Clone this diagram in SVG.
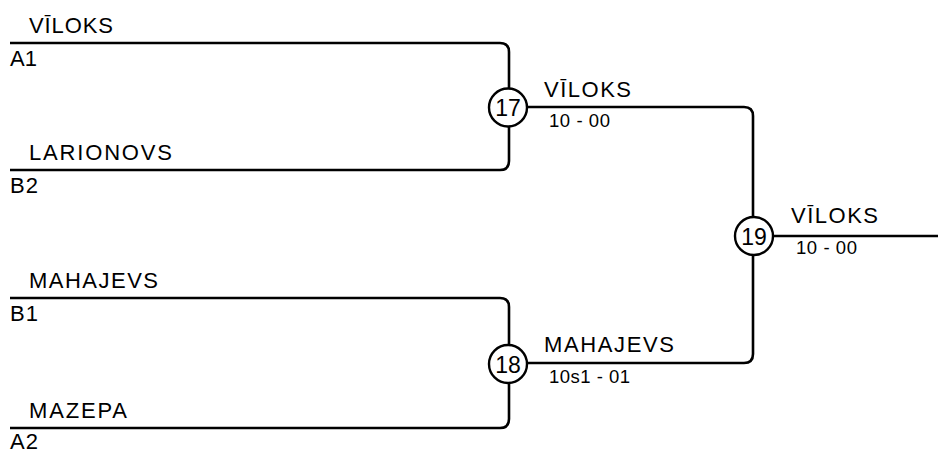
<svg xmlns="http://www.w3.org/2000/svg" width="938" height="449" viewBox="0 0 938 449">
<style>
.ln{fill:none;stroke:#000;stroke-width:2.6;stroke-linejoin:round}
.c{fill:#fff;stroke:#000;stroke-width:2.4}
.nm{font-family:"Liberation Sans",Arial,sans-serif;font-size:22px;fill:#000}
.sd{font-family:"Liberation Sans",Arial,sans-serif;font-size:22px;fill:#000}
.sc{font-family:"Liberation Sans",Arial,sans-serif;font-size:18.5px;fill:#000}
.num{font-family:"Liberation Sans",Arial,sans-serif;font-size:23px;fill:#000;text-anchor:middle}
</style>
<g id="connectors">
<path class="ln" d="M10,43 H500 Q509,43 509,52 V89"/>
<path class="ln" d="M10,170 H500 Q509,170 509,161 V127"/>
<path class="ln" d="M10,298 H500 Q509,298 509,307 V345"/>
<path class="ln" d="M10,428 H500 Q509,428 509,419 V383"/>
<path class="ln" d="M526,107 H744 Q753,107 753,116 V217"/>
<path class="ln" d="M526,363 H744 Q753,363 753,354 V255"/>
<path class="ln" d="M772,236 H938"/>
</g>
<g id="entry-A1">
<text class="nm" x="29" y="33" textLength="84">VĪLOKS</text>
<text class="sd" x="10" y="66" textLength="27">A1</text>
</g>
<g id="entry-B2">
<text class="nm" x="29" y="160" textLength="143">LARIONOVS</text>
<text class="sd" x="10" y="193" textLength="28">B2</text>
</g>
<g id="entry-B1">
<text class="nm" x="29" y="288" textLength="129">MAHAJEVS</text>
<text class="sd" x="10" y="321" textLength="28">B1</text>
</g>
<g id="entry-A2">
<text class="nm" x="29" y="418" textLength="98">MAZEPA</text>
<text class="sd" x="10" y="449" textLength="28">A2</text>
</g>
<g id="match-17">
<circle class="c" cx="508" cy="107.5" r="19"/>
<text class="num" x="508" y="116">17</text>
<text class="nm" x="544" y="97" textLength="87">VĪLOKS</text>
<text class="sc" x="549" y="127" textLength="61">10 - 00</text>
</g>
<g id="match-18">
<circle class="c" cx="508" cy="364" r="19"/>
<text class="num" x="508" y="372.5">18</text>
<text class="nm" x="544" y="352" textLength="130">MAHAJEVS</text>
<text class="sc" x="549" y="383" textLength="81">10s1 - 01</text>
</g>
<g id="match-19">
<circle class="c" cx="754" cy="236" r="19"/>
<text class="num" x="754" y="244.5">19</text>
<text class="nm" x="791" y="223" textLength="87">VĪLOKS</text>
<text class="sc" x="796" y="254" textLength="61">10 - 00</text>
</g>
</svg>
